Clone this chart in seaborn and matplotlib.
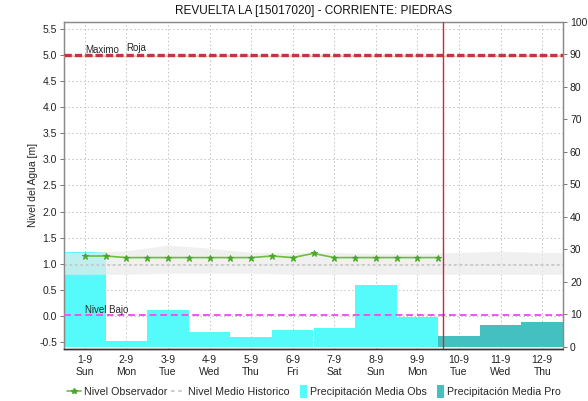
import numpy as np
import pandas as pd
import matplotlib.pyplot as plt
import matplotlib.transforms as mtransforms
from matplotlib.lines import Line2D
from matplotlib.patches import Patch, Rectangle
from matplotlib.legend_handler import HandlerPatch
import seaborn as sns

sns.set_style("white")
plt.rcParams["font.family"] = ["Liberation Sans", "DejaVu Sans"]

dias = ["1-9", "2-9", "3-9", "4-9", "5-9", "6-9", "7-9", "8-9", "9-9", "10-9", "11-9", "12-9"]
semana = ["Sun", "Mon", "Tue", "Wed", "Thu", "Fri", "Sat", "Sun", "Mon", "Tue", "Wed", "Thu"]

precip_obs = [29.3, 1.9, 11.2, 4.4, 2.9, 5.3, 5.9, 18.9, 9.3]
precip_pro = [3.4, 6.8, 7.6]

# lecturas del observador, dos por dia (00h y 12h)
obs_dia = [0, 0, 1, 1, 2, 2, 3, 3, 4, 4, 5, 5, 6, 6, 7, 7, 8, 8]
obs_hora = [0, 12] * 9
obs_nivel = [1.15, 1.15, 1.12, 1.12, 1.12, 1.12, 1.12, 1.12, 1.12,
             1.15, 1.12, 1.20, 1.12, 1.12, 1.12, 1.12, 1.12, 1.12]

hist_medio = [0.97] * 12
hist_sup = [1.22, 1.25, 1.36, 1.30, 1.22, 1.22, 1.22, 1.20, 1.20, 1.22, 1.24, 1.22]
hist_inf = [0.80, 0.80, 0.82, 0.82, 0.82, 0.80, 0.80, 0.80, 0.80, 0.80, 0.80, 0.80]

nivel_maximo = 4.97
nivel_roja = 5.0
nivel_bajo = 0.03
ahora_dia, ahora_hora = 8, 15

GRID = dict(color="#c2c2c2", linestyle=(0, (1.5, 2.5)), linewidth=0.7, zorder=0)

fig = plt.figure(figsize=(5.88, 4.01), dpi=100)
ax2 = fig.add_axes([64 / 588, 1 - 349 / 401, 499 / 588, 327 / 401])
ax = ax2.twinx()
ax.yaxis.tick_left()
ax.yaxis.set_label_position("left")
ax2.yaxis.tick_right()
ax.set_zorder(ax2.get_zorder() + 1)
ax.patch.set_visible(False)

# precipitacion (eje derecho)
prec = pd.DataFrame({
    "pos": np.arange(len(dias)),
    "valor": precip_obs + precip_pro,
    "tipo": ["Obs"] * len(precip_obs) + ["Pro"] * len(precip_pro),
})
sns.barplot(data=prec, x="pos", y="valor", hue="tipo", native_scale=True,
            palette={"Obs": "#55fafa", "Pro": "#45c0c0"}, dodge=False, width=1.0,
            saturation=1, linewidth=0, legend=False, ax=ax2, zorder=2)

# rejilla detras de las barras
ax2.set_xticks(np.arange(len(dias)))
ax2.grid(axis="x", **GRID)
ax2.grid(axis="y", visible=False)
trans = mtransforms.blended_transform_factory(ax2.transAxes, ax.transData)
for v in np.arange(-0.5, 5.51, 0.5):
    ax2.plot([0, 1], [v, v], transform=trans, **GRID)

# nivel historico
xb = np.arange(len(dias))
xb_ext = np.concatenate([[-0.5], xb, [len(dias) - 0.5]])
ax.fill_between(xb_ext, [hist_inf[0]] + hist_inf + [hist_inf[-1]],
                [hist_sup[0]] + hist_sup + [hist_sup[-1]],
                color="#ebebeb", alpha=0.7, linewidth=0, zorder=1)
ax.plot(xb_ext, [hist_medio[0]] + hist_medio + [hist_medio[-1]], color="#c8c8c8",
        linestyle=(0, (1.5, 1.5)), linewidth=1.3, zorder=2)

# nivel del observador
obs = pd.DataFrame({"x": np.array(obs_dia) + np.array(obs_hora) / 24, "nivel": obs_nivel})
sns.lineplot(data=obs, x="x", y="nivel", color="#6cbf3c", linewidth=1.2, marker="*",
             markersize=4.5, markerfacecolor="#4aa82a", markeredgecolor="#4aa82a", ax=ax, zorder=4)

# umbrales
ax.axhline(nivel_maximo, color="#f3d08c", linewidth=0.9, zorder=3)
ax.axhline(nivel_roja, color="#c4334c", linewidth=2.4, linestyle=(0, (2.2, 0.9)), zorder=3)
ax.axhline(nivel_bajo, color="#ee55ee", linewidth=1.4, linestyle=(0, (3.5, 2)), zorder=3)
ax.axvline(ahora_dia + ahora_hora / 24, color="#cc2a2a", linewidth=1.0, zorder=5)
ax.text(0, nivel_roja, "Maximo", fontsize=7, va="bottom", ha="left", zorder=6)
ax.text(1, nivel_roja + 0.03, "Roja", fontsize=7, va="bottom", ha="left", zorder=6)
ax.text(0, nivel_bajo, "Nivel Bajo", fontsize=7, va="bottom", ha="left", zorder=6)

ax.set_xlim(-0.5, len(dias) - 0.5)
ax.set_ylim(-0.63, 5.63)
ax2.set_ylim(-0.7, 100)
ax.set_yticks(np.arange(-0.5, 5.51, 0.5))
ax.set_yticklabels([f"{v:.1f}" for v in np.arange(-0.5, 5.51, 0.5)])
ax2.set_yticks(np.arange(0, 101, 10))
ax2.set_xticks(xb)
ax2.set_xticklabels([f"{d}\n{s}" for d, s in zip(dias, semana)], linespacing=1.25)
ax2.set_xlabel("")
ax2.set_ylabel("")
ax.set_ylabel("")

ax.tick_params(axis="y", labelsize=7.5, length=3, width=0.7, color="#777777", pad=2, labelcolor="#222222")
ax2.tick_params(axis="y", labelsize=7.5, length=3, width=0.7, color="#777777", pad=2, labelcolor="#222222")
ax2.tick_params(axis="x", labelsize=7.5, length=0, pad=4, labelcolor="#222222")
ax.tick_params(axis="x", length=0, labelbottom=False)

for a in (ax, ax2):
    for s in ("left", "right", "top"):
        a.spines[s].set_color("#8a8a8a")
        a.spines[s].set_linewidth(0.9)
    a.spines["bottom"].set_color("#333333")
    a.spines["bottom"].set_linestyle((0, (1, 1)))
    a.spines["bottom"].set_linewidth(1.0)

fig.text(313.5 / 588, 1 - 11 / 401, "REVUELTA LA [15017020] - CORRIENTE: PIEDRAS",
         ha="center", va="center", fontsize=8.5, color="#111111")
fig.text(33 / 588, 1 - 185 / 401, "Nivel del Agua [m]", rotation=90,
         ha="center", va="center", fontsize=7.5, color="#222222")


def cuadro_estrecho(legend, orig_handle, xdescent, ydescent, width, height, fontsize):
    return Rectangle((width - 5, -ydescent - 2), 5, height + 4)


handles = [
    Line2D([], [], color="#6cbf3c", linewidth=1.2, marker="*", markersize=4,
           markerfacecolor="#4aa82a", markeredgecolor="#4aa82a"),
    Line2D([], [], color="#c8c8c8", linewidth=1.3, linestyle=(0, (2, 2))),
    Patch(facecolor="#55fafa", edgecolor="none"),
    Patch(facecolor="#45c0c0", edgecolor="none"),
]
labels = ["Nivel Observador", "Nivel Medio Historico", "Precipitación Media Obs", "Precipitación Media Pro"]
fig.legend(handles, labels, loc="center", bbox_to_anchor=(314 / 588, 1 - 392 / 401), ncol=4,
           frameon=False, fontsize=7.7, handlelength=1.3, handletextpad=0.3, columnspacing=0.3,
           borderaxespad=0, handler_map={Patch: HandlerPatch(patch_func=cuadro_estrecho)})

fig.savefig("out.png", dpi=100)
